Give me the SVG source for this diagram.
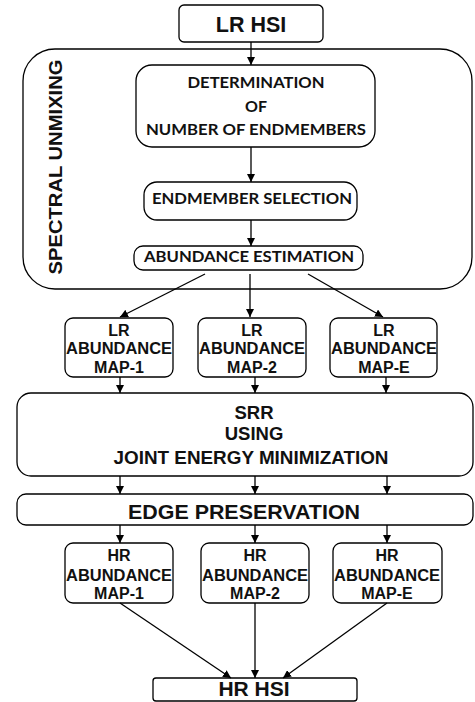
<svg xmlns="http://www.w3.org/2000/svg" width="475" height="702" viewBox="0 0 475 702">
<defs>
<marker id="ah" viewBox="0 0 10 10" refX="10" refY="5" markerWidth="8" markerHeight="8" markerUnits="userSpaceOnUse" orient="auto">
<path d="M0,0 L10,5 L0,10 z" fill="#000"/>
</marker>
</defs>
<style>
.box{fill:#fff;stroke:#000;stroke-width:1.3}
.t{font-family:"Liberation Sans",Arial,sans-serif;font-weight:bold;fill:#111;text-anchor:middle}
.c{font-family:Lato,"Liberation Sans",sans-serif;font-weight:bold;fill:#111;text-anchor:middle}
.e{stroke:#000;stroke-width:1.3;fill:none;marker-end:url(#ah)}
</style>
<rect width="475" height="702" fill="#fff"/>
<g id="spectral-unmixing">
<rect class="box" x="23" y="49" width="449" height="240" rx="32"/>
<text class="t" transform="translate(62,167) rotate(-90)" font-size="18.5" textLength="215" lengthAdjust="spacingAndGlyphs">SPECTRAL UNMIXING</text>
</g>
<g id="lr-hsi">
<rect class="box" x="179" y="5" width="144" height="37" rx="5"/>
<text class="t" x="251" y="32" font-size="21.5">LR HSI</text>
</g>
<g id="determination">
<rect class="box" x="136" y="65" width="239" height="82" rx="16"/>
<text class="c" x="256" y="88" font-size="16" textLength="137" lengthAdjust="spacingAndGlyphs">DETERMINATION</text>
<text class="c" x="256" y="112" font-size="16">OF</text>
<text class="c" x="256" y="135" font-size="16" textLength="220" lengthAdjust="spacingAndGlyphs">NUMBER OF ENDMEMBERS</text>
</g>
<g id="endmember-selection">
<rect class="box" x="144" y="182" width="213" height="38" rx="13"/>
<text class="c" x="252" y="204" font-size="16" textLength="200" lengthAdjust="spacingAndGlyphs">ENDMEMBER SELECTION</text>
</g>
<g id="abundance-estimation">
<rect class="box" x="134" y="246" width="229" height="24" rx="9"/>
<text class="c" x="249" y="262" font-size="16" textLength="210" lengthAdjust="spacingAndGlyphs">ABUNDANCE ESTIMATION</text>
</g>
<g id="lr-map-1">
<rect class="box" x="65" y="318" width="108" height="59" rx="8"/>
<text class="t" x="119" y="336" font-size="16">LR</text>
<text class="t" x="119" y="354" font-size="16" textLength="106" lengthAdjust="spacingAndGlyphs">ABUNDANCE</text>
<text class="t" x="119" y="373" font-size="16">MAP-1</text>
</g>
<g id="lr-map-2">
<rect class="box" x="198" y="318" width="108" height="59" rx="8"/>
<text class="t" x="252" y="336" font-size="16">LR</text>
<text class="t" x="252" y="354" font-size="16" textLength="106" lengthAdjust="spacingAndGlyphs">ABUNDANCE</text>
<text class="t" x="252" y="373" font-size="16">MAP-2</text>
</g>
<g id="lr-map-e">
<rect class="box" x="330" y="318" width="107" height="59" rx="8"/>
<text class="t" x="384" y="336" font-size="16">LR</text>
<text class="t" x="384" y="354" font-size="16" textLength="106" lengthAdjust="spacingAndGlyphs">ABUNDANCE</text>
<text class="t" x="384" y="373" font-size="16">MAP-E</text>
</g>
<g id="srr">
<rect class="box" x="17" y="393" width="456" height="83" rx="14"/>
<text class="t" x="254" y="419" font-size="18.5">SRR</text>
<text class="t" x="254" y="440" font-size="18.5">USING</text>
<text class="t" x="251" y="464" font-size="18.5" textLength="275" lengthAdjust="spacingAndGlyphs">JOINT ENERGY MINIMIZATION</text>
</g>
<g id="edge-preservation">
<rect class="box" x="17" y="494" width="456" height="31" rx="9"/>
<text class="t" x="244" y="519" font-size="21" textLength="232" lengthAdjust="spacingAndGlyphs">EDGE PRESERVATION</text>
</g>
<g id="hr-map-1">
<rect class="box" x="65" y="543" width="108" height="60" rx="8"/>
<text class="t" x="119" y="561" font-size="16">HR</text>
<text class="t" x="119" y="581" font-size="16" textLength="106" lengthAdjust="spacingAndGlyphs">ABUNDANCE</text>
<text class="t" x="119" y="599" font-size="16">MAP-1</text>
</g>
<g id="hr-map-2">
<rect class="box" x="201" y="543" width="108" height="60" rx="8"/>
<text class="t" x="255" y="561" font-size="16">HR</text>
<text class="t" x="255" y="581" font-size="16" textLength="106" lengthAdjust="spacingAndGlyphs">ABUNDANCE</text>
<text class="t" x="255" y="599" font-size="16">MAP-2</text>
</g>
<g id="hr-map-e">
<rect class="box" x="333" y="543" width="109" height="60" rx="8"/>
<text class="t" x="387" y="561" font-size="16">HR</text>
<text class="t" x="387" y="581" font-size="16" textLength="106" lengthAdjust="spacingAndGlyphs">ABUNDANCE</text>
<text class="t" x="387" y="599" font-size="16">MAP-E</text>
</g>
<g id="hr-hsi">
<rect class="box" x="153" y="678" width="204" height="23" rx="3"/>
<text class="t" x="254" y="696" font-size="21">HR HSI</text>
</g>
<g id="connectors">
<line class="e" x1="251" y1="42" x2="251" y2="65"/>
<line class="e" x1="251" y1="147" x2="251" y2="182"/>
<line class="e" x1="251" y1="220" x2="251" y2="246"/>
<line class="e" x1="205" y1="274" x2="120" y2="317"/>
<line class="e" x1="250" y1="274" x2="250" y2="317"/>
<line class="e" x1="308" y1="274" x2="383" y2="317"/>
<line class="e" x1="120" y1="377" x2="120" y2="393"/>
<line class="e" x1="255" y1="377" x2="255" y2="393"/>
<line class="e" x1="386" y1="377" x2="386" y2="393"/>
<line class="e" x1="120" y1="476" x2="120" y2="494"/>
<line class="e" x1="255" y1="476" x2="255" y2="494"/>
<line class="e" x1="387" y1="476" x2="387" y2="494"/>
<line class="e" x1="120" y1="525" x2="120" y2="543"/>
<line class="e" x1="255" y1="525" x2="255" y2="543"/>
<line class="e" x1="387" y1="525" x2="387" y2="543"/>
<line class="e" x1="120" y1="603" x2="231" y2="678"/>
<line class="e" x1="255" y1="603" x2="255" y2="678"/>
<line class="e" x1="387" y1="603" x2="283" y2="678"/>
</g>
</svg>
